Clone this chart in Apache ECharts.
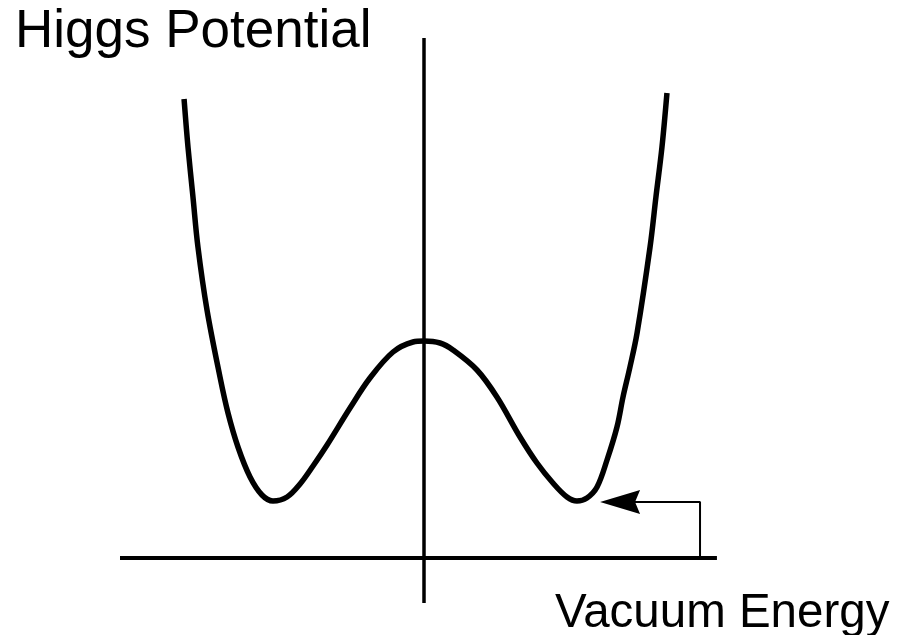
<!DOCTYPE html>
<html lang="en">
<head>
    <meta charset="UTF-8">
    <title>Higgs Potential</title>
    <style>
        html, body { margin: 0; padding: 0; background: #fff; }
        #main { width: 908px; height: 635px; }
    </style>
</head>
<body>
<div id="main"></div>
<script src="https://cdn.jsdelivr.net/npm/echarts@6.0.0/dist/echarts.min.js"></script>
<script type="text/javascript">
    // field value phi (minima at +-1) and potential V
    var phiValues = [-1.589, -1.563, -1.530, -1.497, -1.437, -1.351, -1.298, -1.232, -1.152,
        -1.073, -1.0, -0.907, -0.821, -0.735, -0.642, -0.490, -0.358, -0.205, -0.073, 0,
        0.106, 0.192, 0.351, 0.483, 0.636, 0.748, 0.854, 0.947, 1.013, 1.079,
        1.146, 1.212, 1.278, 1.318, 1.364, 1.411, 1.497, 1.536, 1.576, 1.609];
    var potentialValues = [9.18, 8.22, 7.22, 6.22, 4.96, 3.62, 2.90, 2.22, 1.62,
        1.26, 1.14, 1.22, 1.48, 1.84, 2.26, 3.00, 3.60, 4.12, 4.32, 4.34,
        4.30, 4.16, 3.76, 3.22, 2.42, 1.90, 1.50, 1.22, 1.14, 1.20,
        1.42, 1.96, 2.62, 3.22, 3.82, 4.50, 6.22, 7.22, 8.22, 9.30];

    // axis extents
    var phiAxis = [-2.03, 1.94];
    var vAxis = [-0.9, 10.4];

    // pointer from the label to the right minimum
    var pointerPhi = [1.828, 1.828, 1.20];
    var pointerV = [0, 1.12, 1.12];
    var arrowTip = [1.166, 1.12];

    var titleText = 'Higgs Potential';
    var labelText = 'Vacuum Energy';

    var curve = phiValues.map(function (p, i) { return [p, potentialValues[i]]; });
    var pointer = pointerPhi.map(function (p, i) { return [p, pointerV[i]]; });

    var chartDom = document.getElementById('main');
    var myChart = echarts.init(chartDom);
    var font = '"Liberation Sans", Arial, sans-serif';
    var option = {
        animation: false,
        title: [
            {
                text: titleText, left: 15, top: 6, padding: 0,
                textStyle: { fontSize: 53, fontWeight: 'normal', color: '#000', fontFamily: font }
            },
            {
                text: labelText, left: 555, top: 590, padding: 0,
                textStyle: { fontSize: 47.5, fontWeight: 'normal', color: '#000', fontFamily: font }
            }
        ],
        grid: { left: 122, right: 182, top: 58, bottom: 77 },
        xAxis: { type: 'value', min: -2, max: 2, show: false },
        yAxis: { type: 'value', min: 0, max: 10, show: false },
        series: [
            {
                name: 'phi axis', type: 'line', clip: false, symbol: 'none', silent: true,
                data: [[phiAxis[0], 0], [phiAxis[1], 0]],
                lineStyle: { color: '#000', width: 4 }
            },
            {
                name: 'V axis', type: 'line', clip: false, symbol: 'none', silent: true,
                data: [[0, vAxis[0]], [0, vAxis[1]]],
                lineStyle: { color: '#000', width: 3.5 }
            },
            {
                name: 'potential', type: 'line', clip: false, symbol: 'none', smooth: 0.35,
                data: curve,
                lineStyle: { color: '#000', width: 5.5, cap: 'butt', join: 'round' }
            },
            {
                name: 'pointer', type: 'line', clip: false, symbol: 'none',
                data: pointer,
                lineStyle: { color: '#000', width: 2 }
            },
            {
                name: 'arrow', type: 'scatter', clip: false,
                data: [arrowTip],
                symbol: 'path://M0,12 L40,0 L35,12 L40,24 Z',
                symbolSize: [40, 24],
                symbolOffset: [20, 0],
                itemStyle: { color: '#000', opacity: 1 }
            }
        ]
    };
    option && myChart.setOption(option);
</script>
</body>
</html>
